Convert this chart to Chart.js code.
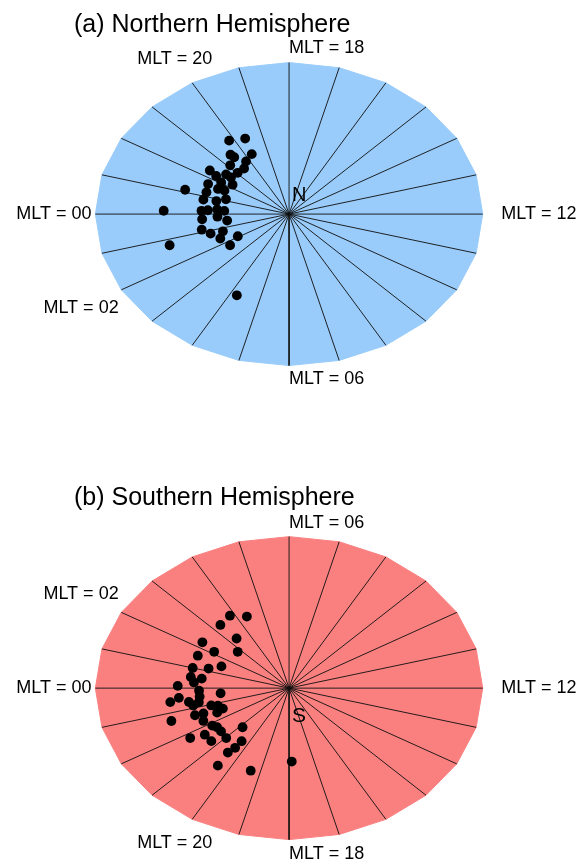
<!DOCTYPE html>
<html>
<head>
<meta charset="utf-8">
<script src="https://cdn.jsdelivr.net/npm/chart.js@4.4.1/dist/chart.umd.min.js"></script>
<style>
  body { margin: 0; background: #fff; }
  canvas { display: block; }
</style>
</head>
<body>
<canvas id="northChart" width="584" height="434"></canvas>
<canvas id="southChart" width="584" height="433"></canvas>
<script>
// hour spokes and the outer boundary latitude
const hours = [0,1,2,3,4,5,6,7,8,9,10,11,12,13,14,15,16,17,18,19,20,21,22,23];
const edgeLat = 50;
const tickHours = [0, 2, 6, 12, 18, 20];

// Northern hemisphere events (MLT in hours, MLAT in degrees)
const northMLT = [20.17, 19.63, 20.51, 20.47, 19.73, 20.17, 20.89, 20.51, 20.95, 21.66,
                  21.75, 21.41, 21.41, 21.95, 22.31, 21.76, 22.89, 22.76, 22.38, 22.34,
                  23.19, 23.14, 22.89, 23.87, 23.82, 23.77, 23.69, 23.76, 0.18, 0.29,
                  0.51, 0.86, 1.18, 1.23, 1.93, 1.63, 1.23, 2.27, 4.22];
const northMLAT = [67.0, 68.1, 70.2, 71.2, 72.4, 73.5, 72.3, 74.8, 74.8, 70.0,
                   71.9, 73.3, 74.6, 73.7, 71.5, 76.0, 67.6, 72.0, 73.9, 75.3,
                   71.9, 74.6, 76.4, 64.1, 71.9, 73.2, 75.1, 76.6, 75.2, 72.0,
                   77.1, 71.5, 73.0, 75.6, 77.9, 74.4, 64.0, 75.3, 66.0];

// Southern hemisphere events
const southMLT = [3.83, 4.35, 3.31, 3.36, 2.27, 2.12, 2.81, 1.63, 1.00, 1.15,
                  1.49, 0.55, 0.53, 0.29, 0.10, 23.86, 23.54, 23.63, 23.57, 23.43,
                  23.33, 23.25, 23.13, 22.94, 22.83, 22.56, 22.43, 22.65, 22.62, 22.26,
                  22.69, 21.87, 21.68, 21.39, 20.86, 21.65, 21.26, 21.81, 20.97, 20.33,
                  20.35, 20.44, 20.38, 19.33, 17.89];
const southMLAT = [-67.3, -69.2, -68.1, -73.0, -68.4, -71.8, -75.7, -69.3, -69.4, -72.6,
                   -74.9, -69.5, -71.8, -70.3, -67.0, -71.4, -71.4, -75.8, -67.1, -65.2,
                   -69.0, -71.0, -69.7, -73.3, -74.6, -75.3, -73.8, -69.3, -71.1, -70.3,
                   -64.2, -71.3, -71.9, -71.9, -75.9, -68.7, -68.7, -65.7, -71.5, -72.9,
                   -70.7, -68.8, -64.8, -66.8, -70.6];

// polar -> cartesian; dir = +1 north (MLT runs counterclockwise), -1 south
function toXY(mlt, mlat, dir) {
    let rho = (90 - Math.abs(mlat)) / (90 - edgeLat);
    let th = (180 + dir * 15 * mlt) * Math.PI / 180;
    return { x: rho * Math.cos(th), y: rho * Math.sin(th) };
}

// where each MLT label sits (radius in units of the boundary, alignment)
const labelPlace = {
    0:  { rho: 1.02, align: 'right' },
    2:  { rho: 1.24, align: 'center' },
    6:  { rho: 1.09, align: 'left' },
    12: { rho: 1.096, align: 'left' },
    18: { rho: 1.097, align: 'left' },
    20: { rho: 1.18, align: 'center' }
};

const textPlugin = {
    id: 'polarText',
    afterDatasetsDraw(chart, args, o) {
        let ctx = chart.ctx, sx = chart.scales.x, sy = chart.scales.y;
        ctx.save();
        ctx.fillStyle = '#000';
        ctx.textBaseline = 'alphabetic';
        ctx.textAlign = 'left';
        ctx.font = '25px "Liberation Sans", Arial, sans-serif';
        ctx.fillText(o.title, 74, o.titleY);

        ctx.font = '18px "Liberation Sans", Arial, sans-serif';
        ctx.textBaseline = 'middle';
        tickHours.forEach(h => {
            let p = labelPlace[h];
            let pt = toXY(h, 90 - p.rho * (90 - edgeLat), o.dir);
            ctx.textAlign = p.align;
            let txt = 'MLT = ' + String(h).padStart(2, '0');
            ctx.fillText(txt, sx.getPixelForValue(pt.x), sy.getPixelForValue(pt.y));
        });

        ctx.font = o.letterSize + 'px "Liberation Sans", Arial, sans-serif';
        ctx.textAlign = 'left';
        ctx.textBaseline = 'alphabetic';
        ctx.fillText(o.letter, sx.getPixelForValue(0) + 3, sy.getPixelForValue(0) + o.letterDy);
        ctx.restore();
    }
};

function makeChart(id, mlt, mlat, dir, fillColor, yMin, yMax, textOpts) {
    let points = mlt.map((m, i) => toXY(m, mlat[i], dir));
    let rim = hours.concat([0]).map(h => toXY(h, edgeLat, dir));
    let spokes = hours.map(h => ({
        data: [{ x: 0, y: 0 }, toXY(h, edgeLat, dir)],
        showLine: true,
        borderColor: 'rgba(15,15,15,0.9)',
        borderWidth: 1,
        pointRadius: 0
    }));

    let datasets = [{
        data: points,
        backgroundColor: '#000',
        borderWidth: 0,
        pointRadius: 4.9
    }].concat(spokes).concat([{
        data: rim,
        showLine: true,
        fill: 'shape',
        backgroundColor: fillColor,
        borderColor: fillColor,
        borderWidth: 1,
        pointRadius: 0
    }]);

    textOpts.dir = dir;
    return new Chart(document.getElementById(id).getContext('2d'), {
        type: 'scatter',
        data: { datasets: datasets },
        options: {
            responsive: false,
            animation: false,
            layout: { padding: 0 },
            scales: {
                x: { type: 'linear', display: false, min: -289 / 197, max: 295 / 197 },
                y: { type: 'linear', display: false, min: yMin, max: yMax }
            },
            plugins: {
                legend: { display: false },
                tooltip: { enabled: false },
                polarText: textOpts
            }
        },
        plugins: [textPlugin]
    });
}

makeChart('northChart', northMLT, northMLAT, 1, 'rgb(153,204,250)', -220 / 155, 214 / 155,
    { title: '(a) Northern Hemisphere', titleY: 32, letter: 'N', letterSize: 20, letterDy: -13 });
makeChart('southChart', southMLT, southMLAT, -1, 'rgb(250,128,128)', -178 / 155, 255 / 155,
    { title: '(b) Southern Hemisphere', titleY: 71, letter: 'S', letterSize: 21, letterDy: 34 });
</script>
</body>
</html>
